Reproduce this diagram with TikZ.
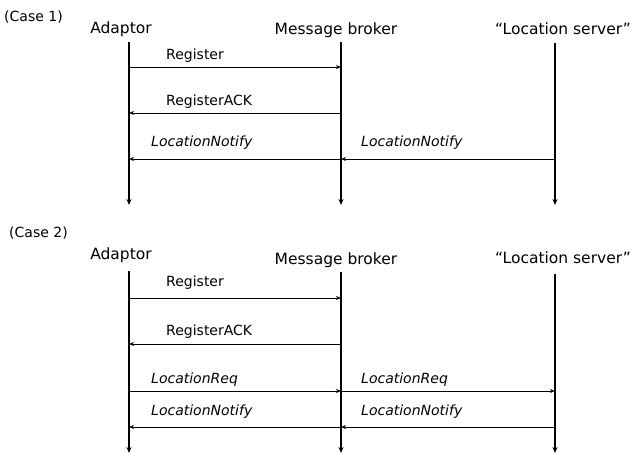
\documentclass[tikz,border=0pt]{standalone}
\usepackage{fontspec}
\setmainfont{DejaVu Sans}
\usetikzlibrary{arrows.meta}
\begin{document}
\begin{tikzpicture}[x=1pt,y=-1pt,
  head/.style={font=\fontsize{15.5}{17}\selectfont,inner sep=0pt},
  lbl/.style={font=\fontsize{14}{16}\selectfont,inner sep=0pt,anchor=west},
  ilbl/.style={lbl,font=\fontsize{14}{16}\selectfont\itshape},
  life/.style={line width=1.2pt,-{Stealth[length=6pt,width=5pt]}},
  msg/.style={line width=0.9pt,-{Stealth[length=5pt,width=4pt]}}]
\useasboundingbox (0,0) rectangle (634,456);
% ---------- Case 1
\node[lbl] (c1) at (4,17) {(Case 1)};
\node[head] (h1a) at (121,29) {Adaptor};
\node[head] (h1b) at (336,30) {Message broker};
\node[head] (h1c) at (563,29) {“Location server”};
\coordinate (a1t) at (129,42); \coordinate (a1b) at (129,205);
\coordinate (b1t) at (341,42); \coordinate (b1b) at (341,205);
\coordinate (c1t) at (555,43); \coordinate (c1b) at (555,205);
\draw[life] (a1t) -- (a1b);
\draw[life] (b1t) -- (b1b);
\draw[life] (c1t) -- (c1b);
\coordinate (m1a) at (129,67); \coordinate (m1b) at (341,67);
\coordinate (m2a) at (129,113); \coordinate (m2b) at (341,113);
\coordinate (m3a) at (129,159); \coordinate (m3b) at (341,159); \coordinate (m3c) at (555,159);
\draw[msg] (m1a) -- (m1b);
\draw[msg] (m2b) -- (m2a);
\draw[msg] (m3b) -- (m3a);
\draw[msg] (m3c) -- (m3b);
\node[lbl] (l1) at (166,56) {Register};
\node[lbl] (l2) at (166,102) {RegisterACK};
\node[ilbl] (l3) at (151,143) {LocationNotify};
\node[ilbl] (l4) at (361,143) {LocationNotify};
% ---------- Case 2
\node[lbl] (c2) at (9,233) {(Case 2)};
\node[head] (h2a) at (121,255) {Adaptor};
\node[head] (h2b) at (336,260) {Message broker};
\node[head] (h2c) at (563,258) {“Location server”};
\coordinate (a2t) at (129,271); \coordinate (a2b) at (129,453);
\coordinate (b2t) at (341,272); \coordinate (b2b) at (341,453);
\coordinate (c2t) at (555,274); \coordinate (c2b) at (555,453);
\draw[life] (a2t) -- (a2b);
\draw[life] (b2t) -- (b2b);
\draw[life] (c2t) -- (c2b);
\coordinate (n1a) at (129,298); \coordinate (n1b) at (341,298);
\coordinate (n2a) at (129,344); \coordinate (n2b) at (341,344);
\coordinate (n3a) at (129,391); \coordinate (n3b) at (341,391); \coordinate (n3c) at (555,391);
\coordinate (n4a) at (129,427); \coordinate (n4b) at (341,427); \coordinate (n4c) at (555,427);
\draw[msg] (n1a) -- (n1b);
\draw[msg] (n2b) -- (n2a);
\draw[msg] (n3a) -- (n3b);
\draw[msg] (n3b) -- (n3c);
\draw[msg] (n4b) -- (n4a);
\draw[msg] (n4c) -- (n4b);
\node[lbl] (k1) at (166,283) {Register};
\node[lbl] (k2) at (166,332) {RegisterACK};
\node[ilbl] (k3) at (151,380) {LocationReq};
\node[ilbl] (k4) at (361,380) {LocationReq};
\node[ilbl] (k5) at (151,412) {LocationNotify};
\node[ilbl] (k6) at (361,412) {LocationNotify};
\end{tikzpicture}
\end{document}
